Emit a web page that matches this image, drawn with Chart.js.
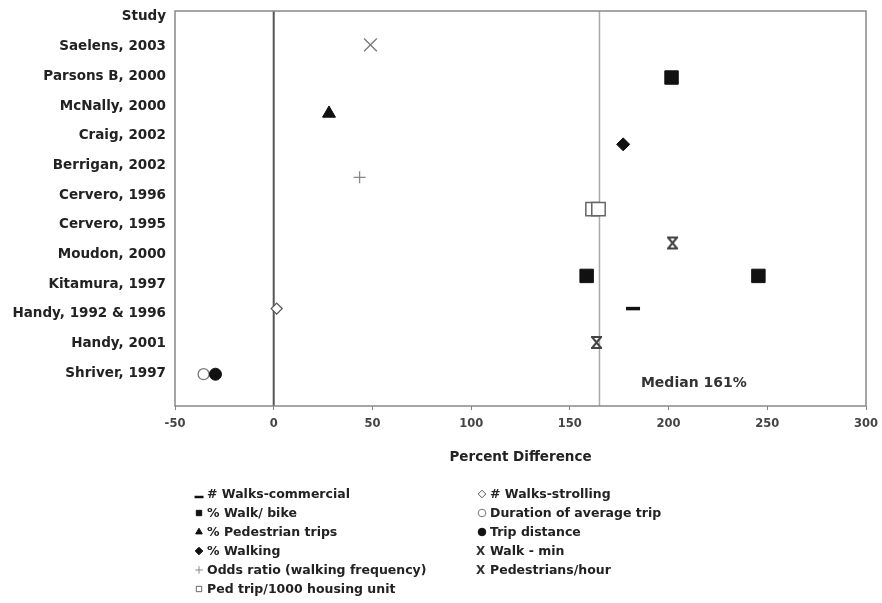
<!DOCTYPE html>
<html>
<head>
<meta charset="utf-8">
<script src="https://cdn.jsdelivr.net/npm/chart.js@4.4.1/dist/chart.umd.min.js"></script>
<style>
  html, body { margin: 0; padding: 0; background: #fff; }
  #wrap { position: relative; width: 882px; height: 603px; }
  #legend {
    position: absolute; left: 193px; top: 484px;
    display: grid; grid-template-columns: 283px 260px;
    grid-template-rows: repeat(6, 19px); grid-auto-flow: column;
    font: bold 12.5px "DejaVu Sans", sans-serif; color: #222;
  }
  .item { display: flex; align-items: center; white-space: nowrap; }
  .item canvas, .item .x { width: 12px; height: 12px; margin-right: 2px; flex: none; }
  .item .x { font-size: 12px; line-height: 12px; color: #333; }
</style>
</head>
<body>
<div id="wrap">
  <canvas id="chart" width="882" height="603"></canvas>
  <div id="legend"></div>
</div>
<script>
// ===== Walking studies — percent difference by study =====

const studies = ['Study', 'Saelens, 2003', 'Parsons B, 2000', 'McNally, 2000', 'Craig, 2002',
  'Berrigan, 2002', 'Cervero, 1996', 'Cervero, 1995', 'Moudon, 2000', 'Kitamura, 1997',
  'Handy, 1992 & 1996', 'Handy, 2001', 'Shriver, 1997'];
const xTicks = [-50, 0, 50, 100, 150, 200, 250, 300];

// [percent difference, row on the study axis]
const walksCommercial = [[182, 9.82]];
const walkBike = [[201.5, 2.04], [158.5, 8.72], [245.5, 8.72]];
const pedestrianTrips = [[28, 3.25]];
const walking = [[177, 4.29]];
const oddsRatio = [[43.5, 5.4]];
const pedTripHousing = [[161.5, 6.47], [164.5, 6.47]];
const walksStrolling = [[1.5, 9.82]];
const durationTrip = [[-35.5, 12.03]];
const tripDistance = [[-29.5, 12.03]];
const walkMin = [[49, 0.94]];
const pedestriansHour = [[202, 7.61], [163.5, 10.96]];

const medianValue = 165;
const medianLabel = 'Median 161%';

// "X" with bars top and bottom, like the original glyph
function barredX(size, color, lw) {
  const c = document.createElement('canvas');
  c.width = size; c.height = size;
  const g = c.getContext('2d');
  const p = 2, q = size - 2;
  g.strokeStyle = color; g.lineWidth = lw;
  g.beginPath();
  g.moveTo(p + 1, p); g.lineTo(q - 1, q);
  g.moveTo(q - 1, p); g.lineTo(p + 1, q);
  g.moveTo(p, p); g.lineTo(q, p);
  g.moveTo(p, q); g.lineTo(q, q);
  g.stroke();
  return c;
}

const series = [
  { label: '# Walks-commercial', data: walksCommercial, pointStyle: 'line', radius: 7, color: '#111', fill: '#111', bw: 3.5, leg: 'left' },
  { label: '% Walk/ bike', data: walkBike, pointStyle: 'rect', radius: 9.5, color: '#111', fill: '#111', bw: 1, leg: 'left' },
  { label: '% Pedestrian trips', data: pedestrianTrips, pointStyle: 'triangle', radius: 7.5, color: '#111', fill: '#111', bw: 1, leg: 'left' },
  { label: '% Walking', data: walking, pointStyle: 'rectRot', radius: 6.5, color: '#111', fill: '#111', bw: 1, leg: 'left' },
  { label: 'Odds ratio (walking frequency)', data: oddsRatio, pointStyle: 'cross', radius: 6, color: '#888', fill: '#888', bw: 1.3, leg: 'left' },
  { label: 'Ped trip/1000 housing unit', data: pedTripHousing, pointStyle: 'rect', radius: 9.5, color: '#666', fill: '#fff', bw: 1.5, leg: 'left' },
  { label: '# Walks-strolling', data: walksStrolling, pointStyle: 'rectRot', radius: 5.5, color: '#555', fill: '#fff', bw: 1.3, leg: 'right' },
  { label: 'Duration of average trip', data: durationTrip, pointStyle: 'circle', radius: 5.5, color: '#777', fill: '#fff', bw: 1.3, leg: 'right', order: 2 },
  { label: 'Trip distance', data: tripDistance, pointStyle: 'circle', radius: 6, color: '#111', fill: '#111', bw: 1, leg: 'right', order: 1 },
  { label: 'Walk - min', data: walkMin, pointStyle: 'crossRot', radius: 9, color: '#777', fill: '#777', bw: 1.3, leg: 'right', x: true },
  { label: 'Pedestrians/hour', data: pedestriansHour, pointStyle: barredX(15, '#444', 2), radius: 7, color: '#444', fill: '#444', bw: 1, leg: 'right', x: true },
];

const framePlugin = {
  id: 'frame',
  beforeDatasetsDraw(chart) {
    const { ctx, chartArea: a, scales: { x, y } } = chart;
    ctx.save();
    const x0 = x.getPixelForValue(0);
    ctx.strokeStyle = '#555'; ctx.lineWidth = 2;
    ctx.beginPath(); ctx.moveTo(x0, a.top); ctx.lineTo(x0, a.bottom); ctx.stroke();
    const xm = x.getPixelForValue(medianValue);
    ctx.strokeStyle = '#aaa'; ctx.lineWidth = 1.5;
    ctx.beginPath(); ctx.moveTo(xm, a.top); ctx.lineTo(xm, a.bottom); ctx.stroke();
    ctx.strokeStyle = '#888'; ctx.lineWidth = 1.5;
    ctx.strokeRect(a.left, a.top, a.width, a.height);
    ctx.fillStyle = '#333';
    ctx.font = 'bold 14px "DejaVu Sans", sans-serif';
    ctx.textBaseline = 'middle';
    ctx.fillText(medianLabel, x.getPixelForValue(186), y.getPixelForValue(12.34));
    ctx.restore();
  }
};

new Chart(document.getElementById('chart'), {
  type: 'scatter',
  data: {
    datasets: series.map(s => ({
      label: s.label,
      data: s.data.map(([v, r]) => ({ x: v, y: r })),
      pointStyle: s.pointStyle,
      pointRadius: s.radius,
      pointBackgroundColor: s.fill,
      pointBorderColor: s.color,
      pointBorderWidth: s.bw,
      order: s.order || 0,
    })),
  },
  options: {
    responsive: false,
    animation: false,
    devicePixelRatio: 1,
    layout: { padding: { top: 9, right: 16, bottom: 137, left: 0 } },
    plugins: { legend: { display: false }, tooltip: { enabled: false } },
    scales: {
      x: {
        type: 'linear', min: -50, max: 300,
        afterBuildTicks: s => { s.ticks = xTicks.map(v => ({ value: v })); },
        afterFit: s => { s.height = 60; s.paddingLeft = 0; s.paddingRight = 0; },
        border: { display: false },
        grid: { drawOnChartArea: false, drawTicks: true, tickLength: 4, color: '#888' },
        ticks: { font: { family: 'DejaVu Sans', size: 11.5, weight: 'bold' }, color: '#444', padding: 7, maxRotation: 0 },
        title: { display: true, text: 'Percent Difference', color: '#222', padding: 0,
          font: { family: 'DejaVu Sans', size: 13.5, weight: 'bold' } },
      },
      y: {
        type: 'linear', min: -0.2, max: 13.1, reverse: true,
        afterBuildTicks: s => { s.ticks = studies.map((_, i) => ({ value: i })); },
        afterFit: s => { s.width = 175; s.paddingTop = 0; s.paddingBottom = 0; },
        border: { display: false },
        grid: { display: false, drawTicks: false },
        ticks: { callback: v => studies[v], autoSkip: false, padding: 9, color: '#222',
          font: { family: 'DejaVu Sans', size: 13.5, weight: 'bold' } },
      },
    },
  },
  plugins: [framePlugin],
});

// legend in two columns, as in the original
const legend = document.getElementById('legend');
['left', 'right'].forEach(col => {
  series.filter(s => s.leg === col).forEach(s => {
    const item = document.createElement('div');
    item.className = 'item';
    if (s.x) {
      const t = document.createElement('span');
      t.className = 'x'; t.textContent = 'X';
      item.appendChild(t);
    } else {
      const c = document.createElement('canvas');
      c.width = 12; c.height = 12;
      const g = c.getContext('2d');
      g.fillStyle = s.fill; g.strokeStyle = s.color;
      g.lineWidth = s.pointStyle === 'line' ? 2.5 : 1;
      Chart.helpers.drawPoint(g, { pointStyle: s.pointStyle, radius: s.pointStyle === 'line' ? 4.5 : 3.8, rotation: 0, borderWidth: g.lineWidth }, 6, s.pointStyle === 'line' ? 9 : 6);
      item.appendChild(c);
    }
    const txt = document.createElement('span');
    txt.textContent = s.label;
    item.appendChild(txt);
    legend.appendChild(item);
  });
});
</script>
</body>
</html>
